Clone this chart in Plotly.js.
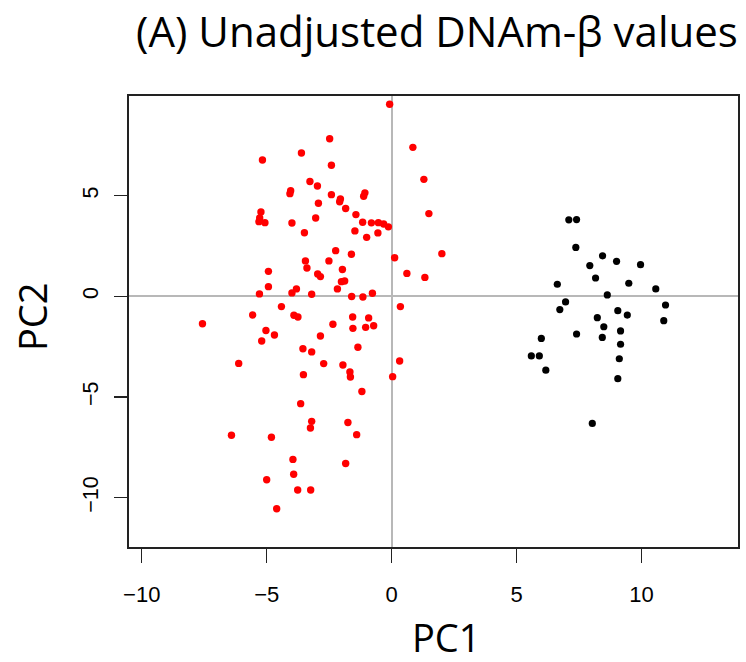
<!DOCTYPE html>
<html>
<head>
<meta charset="utf-8">
<script src="https://cdn.plot.ly/plotly-3.0.1.min.js"></script>
<style>html,body{margin:0;padding:0;background:#fff;}#chart{width:746px;height:662px;}</style>
</head>
<body>
<div id="chart"></div>
<script>
// Group 1 (red)
const redPC1 = [-0.08,-2.48,0.85,-3.61,-5.17,-2.41,1.29,-3.27,-2.97,-4.04,-4.07,-1.07,-1.12,-2.41,-2.05,-2.08,-2.93,1.49,-1.84,-5.23,-5.28,-5.31,-5.07,-3.99,-3.04,-1.43,-1.16,-0.81,-0.53,-0.32,-0.13,-3.49,-1.47,-0.55,-1.00,
  -2.24,-1.61,0.12,2.01,-3.45,-2.51,-3.39,-1.97,-4.93,0.61,-2.96,-2.85,1.33,-2.01,-1.88,-4.93,-3.81,-2.17,-3.99,-5.29,-3.20,-0.77,-1.60,-1.15,0.35,-4.41,-5.56,-3.91,-3.75,-7.57,-1.56,-0.92,-2.35,-1.55,-1.04,-0.72,-5.03,-4.69,-2.85,-5.20,-1.35,-3.55,-3.20,0.32,-6.12,-2.72,-1.95,-1.67,-3.53,-1.65,0.04,-1.19,
  -3.64,-3.20,-3.25,-1.75,-6.41,-4.81,-1.40,-3.95,-1.84,-3.92,-5.00,-3.76,-3.24,-4.60];
const redPC2 = [9.54,7.83,7.40,7.12,6.77,6.51,5.81,5.70,5.48,5.25,5.10,5.14,4.97,5.05,4.84,4.70,4.62,4.11,4.36,4.19,3.89,3.71,3.66,3.64,3.89,4.06,3.68,3.65,3.66,3.59,3.45,3.16,3.25,3.15,2.93,
  2.27,2.09,1.92,2.12,1.76,1.76,1.41,1.33,1.24,1.14,1.11,0.98,0.94,0.73,0.76,0.48,0.37,0.37,0.17,0.12,0.10,0.15,-0.01,-0.03,-0.51,-0.51,-0.93,-0.94,-1.03,-1.36,-1.03,-1.07,-1.39,-1.59,-1.54,-1.46,-1.70,-1.92,-1.97,-2.22,-2.53,-2.60,-2.76,-3.21,-3.33,-3.34,-3.41,-3.76,-3.89,-4.01,-3.99,-4.73,
  -5.33,-6.21,-6.54,-6.27,-6.90,-7.00,-6.87,-8.10,-8.30,-8.84,-9.11,-9.62,-9.62,-10.55];
// Group 2 (black)
const blackPC1 = [7.09,7.40,7.37,8.44,9.00,7.93,9.96,8.16,6.63,9.49,10.57,8.63,6.96,6.73,10.96,9.05,9.43,8.23,10.89,8.49,9.16,7.40,8.43,5.99,9.16,5.59,5.91,9.11,6.17,9.05,8.03];
const blackPC2 = [3.80,3.81,2.43,2.01,1.74,1.53,1.57,0.91,0.60,0.65,0.37,0.07,-0.28,-0.66,-0.43,-0.71,-0.93,-1.06,-1.21,-1.51,-1.72,-1.87,-2.04,-2.09,-2.38,-2.96,-2.96,-3.10,-3.67,-4.09,-6.31];
const tickVals = [-10,-5,0,5,10];
const titleText = "(A) Unadjusted DNAm-β values";
const xLabel = "PC1";
const yLabel = "PC2";

const traces = [
  {x: redPC1, y: redPC2, type: 'scatter', mode: 'markers', marker: {color: '#ff0000', size: 7.4}, hoverinfo: 'x+y'},
  {x: blackPC1, y: blackPC2, type: 'scatter', mode: 'markers', marker: {color: '#000000', size: 7.2}, hoverinfo: 'x+y'}
];

const layout = {
  width: 746, height: 662,
  margin: {l: 129, r: 8, t: 96, b: 115, pad: 0},
  paper_bgcolor: '#fff', plot_bgcolor: '#fff',
  showlegend: false,
  title: {text: titleText, font: {family: 'Open Sans, sans-serif', size: 42, color: '#000'},
          xref: 'container', yref: 'container', x: 437/746, xanchor: 'center', y: 1 - 32/662, yanchor: 'middle'},
  xaxis: {range: [-10.51, 13.86], tickvals: tickVals, ticks: 'outside', ticklen: 14, tickwidth: 1.3, tickcolor: '#222',
          showgrid: false, zeroline: true, zerolinecolor: '#b8b8b8', zerolinewidth: 2,
          showline: true, mirror: true, linecolor: '#222', linewidth: 1.6,
          tickfont: {family: 'Liberation Sans, Arial, sans-serif', size: 22, color: '#000'}, ticklabelstandoff: 13},
  yaxis: {range: [-12.45, 9.95], tickvals: tickVals, ticks: 'outside', ticklen: 13, tickwidth: 1.3, tickcolor: '#222',
          showgrid: false, zeroline: true, zerolinecolor: '#b8b8b8', zerolinewidth: 2,
          showline: true, mirror: true, linecolor: '#222', linewidth: 1.6,
          tickfont: {family: 'Liberation Sans, Arial, sans-serif', size: 21.5, color: '#000'}, tickangle: -90, ticklabelstandoff: 8},
  annotations: [
    {text: xLabel, xref: 'paper', yref: 'paper', x: (446-129)/609, y: -(637-547)/451, xanchor: 'center', yanchor: 'middle',
     showarrow: false, font: {family: 'Open Sans, sans-serif', size: 38, color: '#000'}},
    {text: yLabel, xref: 'paper', yref: 'paper', x: -(129-32)/609, y: (547-317)/451, xanchor: 'center', yanchor: 'middle',
     showarrow: false, textangle: -90, font: {family: 'Open Sans, sans-serif', size: 38, color: '#000'}}
  ]
};
Plotly.newPlot('chart', traces, layout, {displayModeBar: false, staticPlot: true});
</script>
</body>
</html>
